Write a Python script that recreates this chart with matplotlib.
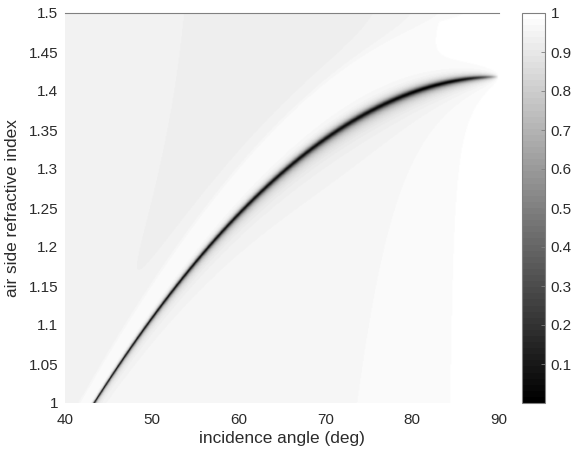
import numpy as np
import matplotlib
matplotlib.use('Agg')
import matplotlib.pyplot as plt
from matplotlib.colors import ListedColormap
from matplotlib.ticker import FuncFormatter

plt.rcParams['font.family'] = ['Liberation Sans', 'DejaVu Sans']

# Kretschmann set-up: prism / silver film / air side medium
wavelength = 633e-9
n_prism = 1.5
eps_metal = -18.3 + 0.48j
d_metal = 50e-9

angles = np.linspace(40, 90, 501)        # deg
indices = np.linspace(1.0, 1.5, 501)     # air side refractive index

xticks = [40, 50, 60, 70, 80, 90]
yticks = [1, 1.05, 1.1, 1.15, 1.2, 1.25, 1.3, 1.35, 1.4, 1.45, 1.5]
cticks = [0.1, 0.2, 0.3, 0.4, 0.5, 0.6, 0.7, 0.8, 0.9, 1]


def reflectance(theta_deg, n_air):
    k0 = 2 * np.pi / wavelength
    e1 = n_prism ** 2 + 0j
    e2 = eps_metal
    e3 = n_air ** 2 + 0j
    kx2 = e1 * np.sin(np.radians(theta_deg)) ** 2
    kz1 = np.sqrt(e1 - kx2)
    kz2 = np.sqrt(e2 - kx2)
    kz3 = np.sqrt(e3 - kx2)
    kz3 = np.where(kz3.imag < 0, -kz3, kz3)
    r12 = (kz1 / e1 - kz2 / e2) / (kz1 / e1 + kz2 / e2)
    r23 = (kz2 / e2 - kz3 / e3) / (kz2 / e2 + kz3 / e3)
    ph = np.exp(2j * kz2 * k0 * d_metal)
    r = (r12 + r23 * ph) / (1 + r12 * r23 * ph)
    return np.abs(r) ** 2


TH, NN = np.meshgrid(angles, indices)
R = reflectance(TH, NN)

cmap = ListedColormap(np.repeat(np.linspace(0, 1, 64)[:, None], 3, axis=1))

fig = plt.figure(figsize=(5.71, 4.55), dpi=100)
ax = fig.add_axes([65 / 571, 1 - 403 / 455, 434 / 571, 390 / 455])
cax = fig.add_axes([522 / 571, 1 - 403 / 455, 23 / 571, 390 / 455])

im = ax.imshow(R, origin='lower', aspect='auto', cmap=cmap, vmin=0, vmax=1,
               extent=[angles[0], angles[-1], indices[0], indices[-1]],
               interpolation='bilinear')
ax.set_xlim(40, 90)
ax.set_ylim(1, 1.5)

txtcol = '#2b2b2b'
for s in ['left', 'right', 'bottom']:
    ax.spines[s].set_visible(False)
ax.spines['top'].set_color('#808080')
ax.spines['top'].set_linewidth(0.8)
ax.set_xticks(xticks)
ax.set_yticks(yticks)
fmt = FuncFormatter(lambda v, p: '%g' % v)
ax.xaxis.set_major_formatter(fmt)
ax.yaxis.set_major_formatter(fmt)
ax.tick_params(length=0, labelsize=11, colors=txtcol)
ax.tick_params(axis='x', pad=7)
ax.tick_params(axis='y', pad=5)
ax.set_xlabel('incidence angle (deg)', fontsize=12.4, color=txtcol, labelpad=3)
ax.set_ylabel('air side refractive index', fontsize=12.4, color=txtcol,
              labelpad=6)

cb = fig.colorbar(im, cax=cax)
cb.set_ticks(cticks)
cb.ax.yaxis.set_major_formatter(fmt)
cb.outline.set_edgecolor('#808080')
cb.outline.set_linewidth(0.8)
cb.ax.tick_params(direction='in', length=3, width=0.6, color='#808080',
                  labelsize=11, labelcolor=txtcol, pad=4)

fig.savefig('out.png', dpi=100)
